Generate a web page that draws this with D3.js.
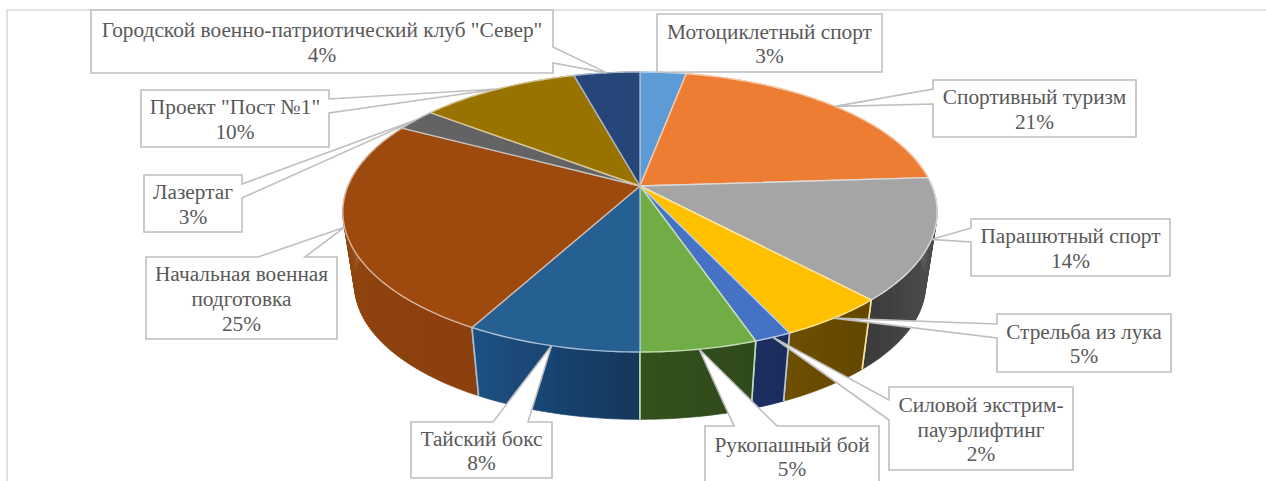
<!DOCTYPE html>
<html lang="ru">
<head>
<meta charset="utf-8">
<script src="https://cdn.jsdelivr.net/npm/d3@7"></script>
<style>
html,body{margin:0;padding:0;background:#fff;overflow:hidden}
svg{display:block}
text{font-family:"Liberation Serif","Times New Roman",serif;font-size:21.33px;fill:#595959;text-anchor:middle}
</style>
</head>
<body>
<svg id="chart" width="1266" height="481"></svg>
<script>
// ---- data (shares read from the rim positions; labels round these to whole percent)
const categories = [
  "Мотоциклетный спорт","Спортивный туризм","Парашютный спорт","Стрельба из лука",
  "Силовой экстрим-\nпауэрлифтинг","Рукопашный бой","Тайский бокс",
  "Начальная военная\nподготовка","Лазертаг","Проект \"Пост №1\"",
  "Городской военно-патриотический клуб \"Север\""
];
const values = [3.0,21.0,14.0,5.0,1.7,5.3,8.0,24.7,2.6,10.4,4.3];

// ---- styles
const topColors  = ["#5b9bd5","#ed7d31","#a5a5a5","#ffc000","#4472c4","#70ad47","#255e91","#9e480e","#636363","#997300","#264478"];
const sideLeft   = ["#37618a","#8a4a1d","#3a3a3a","#6e5000","#1a2e62","#33511f","#1b5184","#8f4410","#3a3a3a","#5c4500","#172a49"];
const sideRight  = ["#2c4e70","#7a4018","#4c4c4c","#634700","#1a2c5a","#2f4a1c","#17365a","#8a3f0c","#333333","#524000","#142440"];
// label boxes: x0,y0,x1,y1, side the wedge leaves from, wedge start & end along that side
const boxes = [
  [657,14,882,72,"b",664,694],
  [933,80,1136,137,"l",89,104],
  [971,219,1170,276,"l",228,242],
  [997,314,1171,372,"l",324,338],
  [889,387,1073,470,"l",400,420],
  [705,426,879,486,"t",734,777],
  [411,422,552,478,"t",493,528],
  [146,257,337,339,"t",258,305],
  [144,175,242,232,"r",184,198],
  [141,90,329,147,"r",99,113],
  [91,10,553,73,"r",47,63]
];

// ---- geometry: pie plane seen in perspective
const tilt = 0.1857;
const topPlane = {cx:640, cy:186, rx:292, ry:135.2};
const botPlane = {cx:640, cy:260, rx:280.5, ry:129.8};
const project = (p, a) => {
  const w = 1 + tilt*Math.cos(a);
  return [p.cx + p.rx*Math.sin(a)/w, p.cy - p.ry*Math.cos(a)/w];
};
const arcPts = (p, a0, a1) => {
  const n = Math.max(2, Math.ceil((a1-a0)/0.02));
  return d3.range(n+1).map(i => project(p, a0+(a1-a0)*i/n));
};
const arcs = d3.pie().sort(null).value(d=>d)(values);
const total = d3.sum(values);
const fmt = d3.format(".0%");
const line = d3.line();
const tint = (c,t) => d3.interpolateRgb(c,"#ffffff")(t);

const svg = d3.select("#chart");
const defs = svg.append("defs");
defs.append("filter").attr("id","soft").attr("x","-5%").attr("y","-5%").attr("width","110%").attr("height","110%")
  .append("feGaussianBlur").attr("stdDeviation",0.55);

// chart frame (only its top and left edges are in view)
svg.append("path").attr("d","M7,481V10H1266").attr("fill","none").attr("stroke","#d9d9d9").attr("stroke-width",1.6);

const pieG = svg.append("g").attr("filter","url(#soft)");

// side walls, back to front
const mid = d => (d.startAngle+d.endAngle)/2;
d3.range(arcs.length).sort((i,j)=>Math.cos(mid(arcs[j]))-Math.cos(mid(arcs[i]))).forEach(i=>{
  const d = arcs[i];
  const t = arcPts(topPlane,d.startAngle,d.endAngle);
  const b = arcPts(botPlane,d.startAngle,d.endAngle);
  const xs = d3.extent(t.concat(b),q=>q[0]);
  const g = defs.append("linearGradient").attr("id","side"+i).attr("gradientUnits","userSpaceOnUse")
    .attr("x1",xs[0]).attr("x2",xs[1]).attr("y1",0).attr("y2",0);
  g.append("stop").attr("offset",0).attr("stop-color",sideLeft[i]);
  g.append("stop").attr("offset",1).attr("stop-color",sideRight[i]);
  // sweep of small quads so the silhouette between both rims is filled
  const quads = d3.range(t.length-1).map(k=>line([t[k],t[k+1],b[k+1],b[k]])+"Z").join("");
  pieG.append("path").attr("d",quads).attr("fill",`url(#side${i})`).attr("stroke",`url(#side${i})`).attr("stroke-width",0.6);
  // seams at the slice's two ends (front half only)
  [[t[0],b[0],d.startAngle],[t[t.length-1],b[b.length-1],d.endAngle]].forEach(([p,q,a])=>{
    if(Math.cos(a)<0) pieG.append("path").attr("d",line([p,q])).attr("fill","none")
      .attr("stroke",tint(topColors[i],0.6)).attr("stroke-width",1.6);
  });
});
// top face
arcs.forEach((d,i)=>{
  const pts = [[topPlane.cx,topPlane.cy]].concat(arcPts(topPlane,d.startAngle,d.endAngle));
  pieG.append("path").attr("d",line(pts)+"Z").attr("fill",topColors[i])
    .attr("stroke",tint(topColors[i],0.6)).attr("stroke-width",1.4).attr("stroke-linejoin","round");
});

// callout labels: the wedge tip sits on the rim at the slice's mid-angle
const lblG = svg.append("g");
arcs.forEach((d,i)=>{
  const [x0,y0,x1,y1,side,s0,s1] = boxes[i];
  const tip = project(topPlane,mid(d));
  let pts;
  if(side==="l") pts=[[x0,y0],[x1,y0],[x1,y1],[x0,y1],[x0,s1],tip,[x0,s0]];
  if(side==="r") pts=[[x0,y0],[x1,y0],[x1,s0],tip,[x1,s1],[x1,y1],[x0,y1]];
  if(side==="t") pts=[[x0,y0],[s0,y0],tip,[s1,y0],[x1,y0],[x1,y1],[x0,y1]];
  if(side==="b") pts=[[x0,y0],[x1,y0],[x1,y1],[s1,y1],tip,[s0,y1],[x0,y1]];
  lblG.append("path").attr("d",line(pts)+"Z").attr("fill","#fff").attr("stroke","#bfbfbf").attr("stroke-width",1.6).attr("stroke-linejoin","miter");
  const lines = categories[i].split("\n").concat(fmt(values[i]/total));
  const cx = (x0+x1)/2, cy = (y0+y1)/2 + 1.5;
  const lh = 24.8;
  const t = lblG.append("text").attr("x",cx);
  lines.forEach((s,k)=>{
    t.append("tspan").attr("x",cx).attr("y",cy+(k-(lines.length-1)/2)*lh+6.5).text(s);
  });
});
</script>
</body>
</html>
